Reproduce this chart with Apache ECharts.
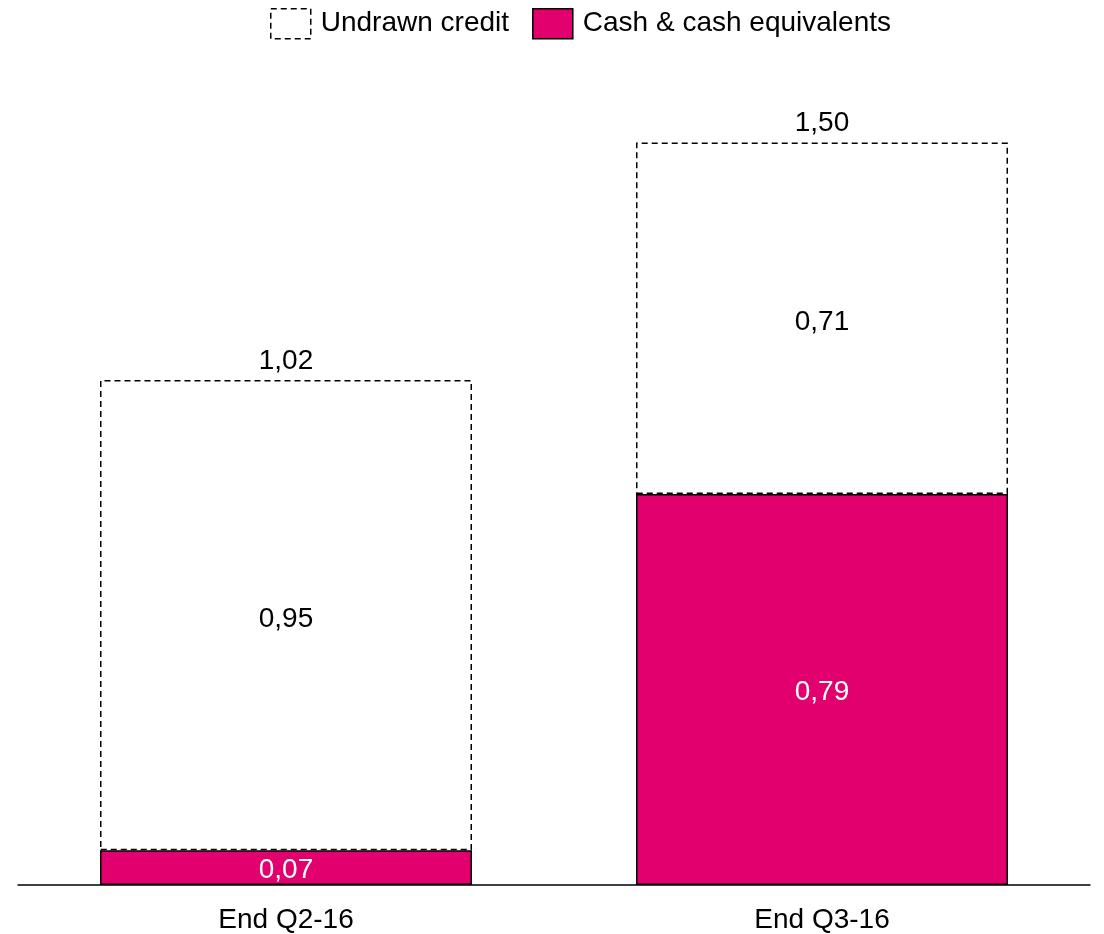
<!DOCTYPE html>
<html>
<head>
<meta charset="utf-8">
<script src="https://cdn.jsdelivr.net/npm/echarts@6/dist/echarts.min.js"></script>
<style>
html,body{margin:0;padding:0;background:#fff;}
#chart{width:1104px;height:934px;}
</style>
</head>
<body>
<div id="chart"></div>
<script>
// Liquidity position, in stacked bars (cash at the bottom, undrawn credit above)
const categories = ['End Q2-16', 'End Q3-16'];
const cashValues = [0.07, 0.79];
const undrawnValues = [0.95, 0.71];
const totals = cashValues.map((v, i) => +(v + undrawnValues[i]).toFixed(2));

const FONT = 'Liberation Sans, Arial, sans-serif';
const FS = 28;
const MAGENTA = '#E2006F';
const fmt = v => v.toFixed(2).replace('.', ',');

const chart = echarts.init(document.getElementById('chart'), null, { renderer: 'canvas' });

chart.setOption({
  animation: false,
  backgroundColor: '#fff',
  textStyle: { fontFamily: FONT },
  legend: {
    top: 8,
    left: 270,
    padding: 0,
    itemWidth: 40,
    itemHeight: 30,
    itemGap: 23,
    textStyle: { fontFamily: FONT, fontSize: FS, color: '#000', padding: [5, 0, 0, 5] },
    data: [
      { name: 'Undrawn credit', icon: 'rect',
        itemStyle: { color: '#fff', borderColor: '#000', borderWidth: 1.5, borderType: [6, 4] } },
      { name: 'Cash & cash equivalents', icon: 'rect',
        itemStyle: { color: MAGENTA, borderColor: '#000', borderWidth: 1.5 } }
    ]
  },
  grid: { left: 18, right: 14, top: 93, bottom: 46, containLabel: false },
  xAxis: {
    type: 'category',
    data: categories,
    axisLine: { lineStyle: { color: '#000', width: 1.5 } },
    axisTick: { show: false },
    axisLabel: { fontFamily: FONT, fontSize: FS, color: '#000', margin: 21 }
  },
  yAxis: {
    type: 'value',
    min: 0,
    max: 1.6,
    show: false,
    splitLine: { show: false }
  },
  series: [
    {
      name: 'Cash & cash equivalents',
      type: 'bar',
      stack: 'liq',
      barWidth: 372,
      z: 3,
      data: cashValues,
      itemStyle: { color: MAGENTA, borderColor: '#000', borderWidth: 1.5 },
      label: {
        show: true, position: 'inside', color: '#fff', offset: [0, 3],
        fontFamily: FONT, fontSize: FS,
        formatter: p => fmt(p.value)
      }
    },
    {
      name: 'Undrawn credit',
      type: 'bar',
      stack: 'liq',
      barWidth: 372,
      z: 2,
      data: undrawnValues,
      itemStyle: { color: 'rgba(255,255,255,0)', borderColor: '#000', borderWidth: 1.5, borderType: [6, 4] },
      label: {
        show: true, position: 'inside', color: '#000', offset: [0, 4],
        fontFamily: FONT, fontSize: FS,
        formatter: p => fmt(p.value)
      }
    },
    {
      name: 'Total',
      type: 'scatter',
      data: totals,
      symbolSize: 0,
      silent: true,
      z: 4,
      itemStyle: { opacity: 1, color: '#000' },
      label: {
        show: true, position: 'top', distance: 5, color: '#000',
        fontFamily: FONT, fontSize: FS,
        formatter: p => fmt(p.value)
      }
    }
  ]
});
</script>
</body>
</html>
